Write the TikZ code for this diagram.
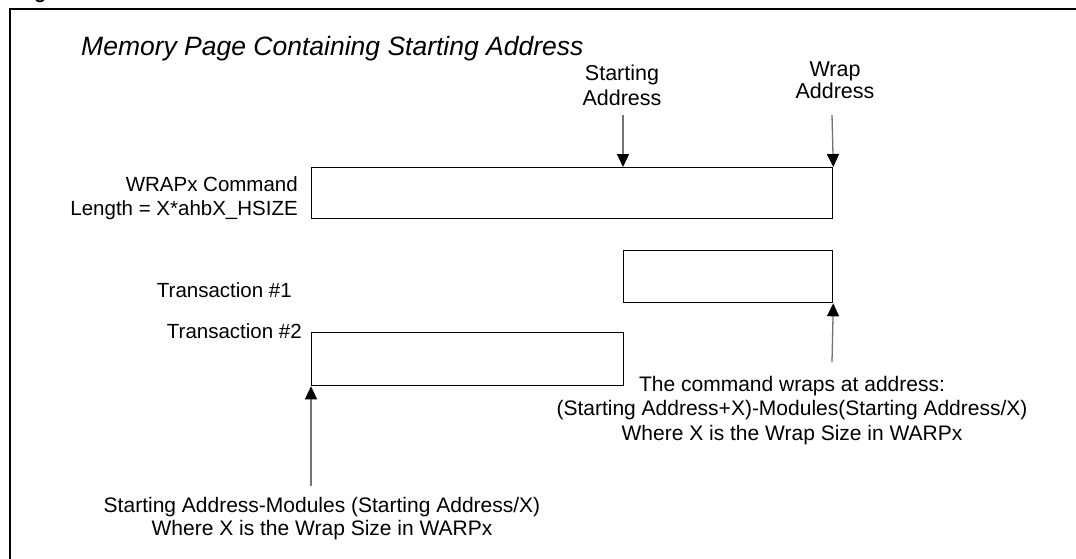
\documentclass[tikz,border=0pt]{standalone}
\usepackage{fontspec}
\setmainfont{Liberation Sans}
\usetikzlibrary{arrows.meta}
\tikzset{
  x=1pt, y=-1pt,
  memblk/.style={draw=black, line width=1.3pt, fill=white, inner sep=0pt, anchor=north west},
  lbl/.style={font=\fontsize{21}{24.5}\selectfont, inner sep=0pt, align=center},
  rlbl/.style={lbl, font=\fontsize{20.5}{24}\selectfont, align=right, anchor=east},
  ptr/.style={draw=black!55, line width=1.3pt, -{Triangle[color=black, length=13pt, width=12pt]}},
  frameline/.style={line width=2.2pt, line cap=rect}
}
\begin{document}
\begin{tikzpicture}
\useasboundingbox (0,0) rectangle (1076,558);
\fill[white] (0,0) rectangle (1076,558);

% caption remnant and open frame
\node[anchor=base west, inner sep=0pt, font=\bfseries\fontsize{20}{24}\selectfont] (cap) at (34,-2) {g};
\draw[frameline] (10,600) -- (10,9) -- (1100,9);

% title
\node[anchor=base west, inner sep=0pt, font=\itshape\fontsize{26.5}{30}\selectfont] (title) at (81,55) {Memory Page Containing Starting Address};

% address labels
\node[lbl, font=\fontsize{21.5}{25}\selectfont] (sal) at (622,85) {Starting\\Address};
\node[lbl, font=\fontsize{21.5}{22}\selectfont] (wal) at (835,80) {Wrap\\Address};

% memory blocks
\node[memblk, minimum width=521pt, minimum height=51pt] (cmd) at (311,167) {};
\node[memblk, minimum width=209pt, minimum height=52pt] (tr1) at (623,250) {};
\node[memblk, minimum width=312pt, minimum height=53pt] (tr2) at (311,332) {};

% block labels
\node[rlbl] (cmdl) at (298,198) {WRAPx Command\\Length = X*ahbX\_HSIZE};
\node[rlbl] (tr1l) at (292,290) {Transaction \#1};
\node[rlbl] (tr2l) at (302,331) {Transaction \#2};

% explanation texts
\node[lbl, anchor=north] (wrapnote) at (792,376) {The command wraps at address:\\(Starting Address+X)-Modules(Starting Address/X)\\Where X is the Wrap Size in WARPx};
\node[lbl, anchor=north, font=\fontsize{21}{23}\selectfont] (startnote) at (322,497) {Starting Address-Modules (Starting Address/X)\\Where X is the Wrap Size in WARPx};

% pointer arrows
\coordinate (saT) at (623,115);
\coordinate (waT) at (832,115);
\coordinate (wrB) at (832,362);
\coordinate (stB) at (311,486);
\draw[ptr] (saT) -- (saT |- cmd.north);
\draw[ptr] (waT) -- (cmd.north east);
\draw[ptr] (wrB) -- (tr1.south east);
\draw[ptr] (stB) -- (tr2.south west);
\end{tikzpicture}
\end{document}
